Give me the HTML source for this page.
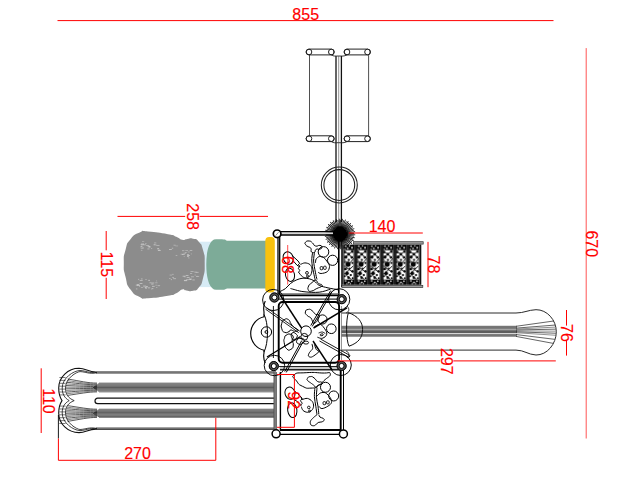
<!DOCTYPE html>
<html><head><meta charset="utf-8"><title>Playground plan</title>
<style>
html,body{margin:0;padding:0;background:#fff;}
body{width:640px;height:480px;overflow:hidden;}
svg{display:block}
</style></head><body>
<svg width="640" height="480" viewBox="0 0 640 480">
<rect width="640" height="480" fill="#fff"/>
<rect x="199" y="241.7" width="18" height="45.4" fill="#d7ebf5"/>
<path d="M123.8,263.3 C123.8,254.4 123.3,258.0 125.5,250.0 C127.7,242.0 125.8,245.0 130.5,239.2 C135.2,233.4 133.9,235.1 139.7,232.5 C145.5,229.9 138.6,230.9 148.0,231.5 C157.4,232.1 158.6,232.5 168.0,234.2 C177.4,235.9 171.6,234.8 176.3,236.7 C181.0,238.6 178.6,239.0 182.2,239.8 C185.8,240.6 183.6,239.4 187.2,239.0 C190.8,238.6 189.1,237.8 193.0,238.7 C196.9,239.6 195.5,237.9 198.8,241.7 C202.1,245.5 201.0,242.8 203.0,250.0 C205.0,257.2 204.7,253.9 204.7,263.3 C204.7,272.7 205.0,270.2 203.0,278.3 C201.0,286.4 202.1,283.3 198.8,287.5 C195.5,291.7 197.2,289.8 193.0,290.8 C188.8,291.8 189.9,290.9 186.3,290.5 C182.7,290.1 185.5,288.7 182.2,289.6 C178.9,290.5 181.0,291.2 176.3,293.3 C171.6,295.4 177.4,294.2 168.0,295.8 C158.6,297.4 157.4,297.8 148.0,298.2 C138.6,298.6 145.5,299.8 139.7,296.9 C133.9,294.0 135.2,296.3 130.5,289.6 C125.8,282.9 127.7,285.5 125.5,276.7 C123.3,267.9 123.8,272.2 123.8,263.3 Z" stroke="none" stroke-width="0" fill="#8c8c8c" />
<rect x="147.6" y="246.0" width="3.0" height="0.7" fill="#d8d8d8" opacity="0.71"/>
<rect x="148.6" y="246.3" width="1.4" height="0.7" fill="#d8d8d8" opacity="0.73"/>
<rect x="151.0" y="248.1" width="1.2" height="0.7" fill="#d8d8d8" opacity="0.64"/>
<rect x="140.7" y="248.3" width="2.5" height="0.7" fill="#d8d8d8" opacity="0.52"/>
<rect x="157.7" y="249.7" width="2.4" height="0.7" fill="#d8d8d8" opacity="0.78"/>
<rect x="142.0" y="241.1" width="2.2" height="0.7" fill="#d8d8d8" opacity="0.53"/>
<rect x="142.6" y="243.2" width="1.1" height="0.7" fill="#d8d8d8" opacity="0.71"/>
<rect x="147.4" y="248.6" width="2.1" height="0.7" fill="#d8d8d8" opacity="0.79"/>
<rect x="148.5" y="247.0" width="2.0" height="0.7" fill="#d8d8d8" opacity="0.63"/>
<rect x="158.0" y="250.0" width="2.8" height="0.7" fill="#d8d8d8" opacity="0.82"/>
<rect x="145.0" y="243.1" width="1.6" height="0.7" fill="#d8d8d8" opacity="0.53"/>
<rect x="153.6" y="244.6" width="2.9" height="0.7" fill="#d8d8d8" opacity="0.67"/>
<rect x="157.2" y="248.6" width="1.0" height="0.7" fill="#d8d8d8" opacity="0.59"/>
<rect x="156.3" y="245.2" width="3.2" height="0.7" fill="#d8d8d8" opacity="0.68"/>
<rect x="140.4" y="246.7" width="2.7" height="0.7" fill="#d8d8d8" opacity="0.62"/>
<rect x="140.7" y="244.0" width="3.1" height="0.7" fill="#d8d8d8" opacity="0.84"/>
<rect x="141.2" y="243.2" width="1.2" height="0.7" fill="#d8d8d8" opacity="0.53"/>
<rect x="154.1" y="242.6" width="2.2" height="0.7" fill="#d8d8d8" opacity="0.70"/>
<rect x="142.6" y="247.6" width="1.3" height="0.7" fill="#d8d8d8" opacity="0.79"/>
<rect x="141.2" y="244.8" width="1.5" height="0.7" fill="#d8d8d8" opacity="0.62"/>
<rect x="157.4" y="248.2" width="1.7" height="0.7" fill="#d8d8d8" opacity="0.90"/>
<rect x="143.0" y="244.5" width="2.9" height="0.7" fill="#d8d8d8" opacity="0.79"/>
<rect x="140.9" y="249.9" width="1.5" height="0.7" fill="#d8d8d8" opacity="0.62"/>
<rect x="153.7" y="244.0" width="1.7" height="0.7" fill="#d8d8d8" opacity="0.53"/>
<rect x="140.7" y="246.2" width="1.5" height="0.7" fill="#d8d8d8" opacity="0.77"/>
<rect x="146.1" y="245.1" width="3.1" height="0.7" fill="#d8d8d8" opacity="0.72"/>
<rect x="148.2" y="287.6" width="1.4" height="0.7" fill="#d8d8d8" opacity="0.57"/>
<rect x="155.9" y="287.1" width="1.5" height="0.7" fill="#d8d8d8" opacity="0.59"/>
<rect x="152.0" y="288.4" width="1.4" height="0.7" fill="#d8d8d8" opacity="0.93"/>
<rect x="155.3" y="284.8" width="1.9" height="0.7" fill="#d8d8d8" opacity="0.55"/>
<rect x="135.9" y="288.6" width="1.5" height="0.7" fill="#d8d8d8" opacity="0.82"/>
<rect x="140.9" y="287.1" width="2.3" height="0.7" fill="#d8d8d8" opacity="0.63"/>
<rect x="139.0" y="286.1" width="1.2" height="0.7" fill="#d8d8d8" opacity="0.60"/>
<rect x="147.9" y="287.5" width="2.4" height="0.7" fill="#d8d8d8" opacity="0.63"/>
<rect x="156.1" y="280.6" width="1.0" height="0.7" fill="#d8d8d8" opacity="0.62"/>
<rect x="145.3" y="279.1" width="1.4" height="0.7" fill="#d8d8d8" opacity="0.67"/>
<rect x="148.2" y="279.9" width="1.8" height="0.7" fill="#d8d8d8" opacity="0.90"/>
<rect x="157.6" y="285.4" width="2.5" height="0.7" fill="#d8d8d8" opacity="0.76"/>
<rect x="138.2" y="278.9" width="1.0" height="0.7" fill="#d8d8d8" opacity="0.91"/>
<rect x="151.1" y="288.6" width="1.0" height="0.7" fill="#d8d8d8" opacity="0.79"/>
<rect x="146.1" y="286.2" width="1.7" height="0.7" fill="#d8d8d8" opacity="0.95"/>
<rect x="136.7" y="284.2" width="2.6" height="0.7" fill="#d8d8d8" opacity="0.91"/>
<rect x="152.0" y="285.9" width="2.7" height="0.7" fill="#d8d8d8" opacity="0.91"/>
<rect x="143.1" y="285.7" width="3.0" height="0.7" fill="#d8d8d8" opacity="0.89"/>
<rect x="144.6" y="286.8" width="2.9" height="0.7" fill="#d8d8d8" opacity="0.76"/>
<rect x="149.4" y="282.5" width="2.3" height="0.7" fill="#d8d8d8" opacity="0.77"/>
<rect x="136.8" y="285.2" width="3.2" height="0.7" fill="#d8d8d8" opacity="0.90"/>
<rect x="151.7" y="282.6" width="2.6" height="0.7" fill="#d8d8d8" opacity="0.76"/>
<rect x="145.1" y="287.3" width="1.2" height="0.7" fill="#d8d8d8" opacity="0.84"/>
<rect x="135.7" y="284.8" width="2.1" height="0.7" fill="#d8d8d8" opacity="0.60"/>
<rect x="151.1" y="283.7" width="2.4" height="0.7" fill="#d8d8d8" opacity="0.91"/>
<rect x="140.9" y="278.6" width="1.7" height="0.7" fill="#d8d8d8" opacity="0.81"/>
<rect x="139.7" y="280.3" width="3.0" height="0.7" fill="#d8d8d8" opacity="0.80"/>
<rect x="145.2" y="287.9" width="1.7" height="0.7" fill="#d8d8d8" opacity="0.80"/>
<rect x="139.6" y="283.0" width="2.8" height="0.7" fill="#d8d8d8" opacity="0.91"/>
<rect x="155.2" y="282.5" width="2.3" height="0.7" fill="#d8d8d8" opacity="0.64"/>
<rect x="181.9" y="254.0" width="2.8" height="0.7" fill="#d8d8d8" opacity="0.88"/>
<rect x="188.0" y="257.6" width="1.6" height="0.7" fill="#d8d8d8" opacity="0.58"/>
<rect x="185.2" y="252.2" width="1.5" height="0.7" fill="#d8d8d8" opacity="0.69"/>
<rect x="187.1" y="254.0" width="1.7" height="0.7" fill="#d8d8d8" opacity="0.88"/>
<rect x="190.8" y="253.6" width="1.2" height="0.7" fill="#d8d8d8" opacity="0.51"/>
<rect x="189.7" y="250.3" width="2.6" height="0.7" fill="#d8d8d8" opacity="0.76"/>
<rect x="183.7" y="256.3" width="1.0" height="0.7" fill="#d8d8d8" opacity="0.56"/>
<rect x="185.3" y="250.2" width="2.8" height="0.7" fill="#d8d8d8" opacity="0.61"/>
<rect x="182.0" y="250.4" width="2.4" height="0.7" fill="#d8d8d8" opacity="0.70"/>
<rect x="187.1" y="255.2" width="2.8" height="0.7" fill="#d8d8d8" opacity="0.93"/>
<rect x="187.7" y="251.6" width="2.0" height="0.7" fill="#d8d8d8" opacity="0.58"/>
<rect x="180.6" y="253.8" width="2.6" height="0.7" fill="#d8d8d8" opacity="0.58"/>
<rect x="183.4" y="252.8" width="2.5" height="0.7" fill="#d8d8d8" opacity="0.73"/>
<rect x="187.0" y="256.0" width="1.9" height="0.7" fill="#d8d8d8" opacity="0.86"/>
<rect x="195.5" y="271.9" width="3.1" height="0.7" fill="#d8d8d8" opacity="0.83"/>
<rect x="182.6" y="275.8" width="2.4" height="0.7" fill="#d8d8d8" opacity="0.91"/>
<rect x="186.7" y="277.0" width="2.9" height="0.7" fill="#d8d8d8" opacity="0.86"/>
<rect x="196.1" y="275.9" width="2.4" height="0.7" fill="#d8d8d8" opacity="0.59"/>
<rect x="192.4" y="279.6" width="2.4" height="0.7" fill="#d8d8d8" opacity="0.82"/>
<rect x="184.0" y="280.4" width="3.2" height="0.7" fill="#d8d8d8" opacity="0.94"/>
<rect x="189.4" y="279.3" width="1.7" height="0.7" fill="#d8d8d8" opacity="0.91"/>
<rect x="194.6" y="274.7" width="1.2" height="0.7" fill="#d8d8d8" opacity="0.70"/>
<rect x="189.6" y="279.1" width="2.1" height="0.7" fill="#d8d8d8" opacity="0.51"/>
<rect x="193.9" y="271.7" width="2.8" height="0.7" fill="#d8d8d8" opacity="0.58"/>
<rect x="186.0" y="279.3" width="1.3" height="0.7" fill="#d8d8d8" opacity="0.57"/>
<rect x="189.0" y="278.6" width="2.8" height="0.7" fill="#d8d8d8" opacity="0.81"/>
<rect x="196.1" y="276.2" width="3.1" height="0.7" fill="#d8d8d8" opacity="0.54"/>
<rect x="184.2" y="276.5" width="1.6" height="0.7" fill="#d8d8d8" opacity="0.83"/>
<rect x="191.0" y="276.5" width="2.9" height="0.7" fill="#d8d8d8" opacity="0.75"/>
<rect x="185.6" y="275.0" width="2.9" height="0.7" fill="#d8d8d8" opacity="0.91"/>
<rect x="183.9" y="279.9" width="3.1" height="0.7" fill="#d8d8d8" opacity="0.74"/>
<rect x="190.0" y="273.1" width="2.2" height="0.7" fill="#d8d8d8" opacity="0.73"/>
<rect x="190.5" y="271.3" width="3.1" height="0.7" fill="#d8d8d8" opacity="0.73"/>
<rect x="187.1" y="279.4" width="2.2" height="0.7" fill="#d8d8d8" opacity="0.72"/>
<rect x="173.5" y="244.8" width="2.2" height="0.7" fill="#d8d8d8" opacity="0.69"/>
<rect x="175.7" y="255.1" width="1.6" height="0.7" fill="#d8d8d8" opacity="0.71"/>
<rect x="169.0" y="249.2" width="2.8" height="0.7" fill="#d8d8d8" opacity="0.91"/>
<rect x="171.8" y="247.8" width="1.4" height="0.7" fill="#d8d8d8" opacity="0.78"/>
<rect x="175.4" y="245.6" width="2.7" height="0.7" fill="#d8d8d8" opacity="0.51"/>
<rect x="169.6" y="274.7" width="2.5" height="0.7" fill="#d8d8d8" opacity="0.64"/>
<rect x="170.8" y="279.4" width="1.2" height="0.7" fill="#d8d8d8" opacity="0.83"/>
<rect x="169.0" y="278.1" width="1.6" height="0.7" fill="#d8d8d8" opacity="0.59"/>
<rect x="172.2" y="277.2" width="1.8" height="0.7" fill="#d8d8d8" opacity="0.69"/>
<rect x="172.2" y="273.9" width="1.4" height="0.7" fill="#d8d8d8" opacity="0.78"/>
<rect x="173.1" y="278.4" width="2.9" height="0.7" fill="#d8d8d8" opacity="0.78"/>
<path d="M214,239.5 C217,239 222,239.2 225,239.6 C226,240.6 227,241 229,240.8 L266,240.8 L266,288.6 L229,288.6 C227,288.5 226,288.8 225,289.4 C222,289.7 217,290 214,289.4 C208.5,287 206.3,276 206.3,264.5 C206.3,253 208.5,242 214,239.5 Z" stroke="none" stroke-width="0" fill="#7dab98" />
<rect x="265.3" y="236.9" width="9.5" height="55.6" rx="3.8" fill="#f8c10e"/>
<line x1="336.00" y1="56.00" x2="336.00" y2="222.00" stroke="#111" stroke-width="1.3" />
<line x1="338.70" y1="56.00" x2="338.70" y2="222.00" stroke="#666" stroke-width="0.7" />
<line x1="341.40" y1="56.00" x2="341.40" y2="222.00" stroke="#111" stroke-width="1.3" />
<rect x="306.10" y="49.10" width="28.10" height="5.80" rx="2.9" stroke="#222" stroke-width="1.0" fill="none"/>
<circle cx="309.00" cy="52.00" r="2.80" stroke="#222" stroke-width="1.0" fill="none"/>
<circle cx="331.30" cy="52.00" r="2.80" stroke="#222" stroke-width="1.0" fill="none"/>
<rect x="306.10" y="135.80" width="28.10" height="5.80" rx="2.9" stroke="#222" stroke-width="1.0" fill="none"/>
<circle cx="309.00" cy="138.70" r="2.80" stroke="#222" stroke-width="1.0" fill="none"/>
<circle cx="331.30" cy="138.70" r="2.80" stroke="#222" stroke-width="1.0" fill="none"/>
<rect x="344.10" y="49.10" width="26.30" height="5.80" rx="2.9" stroke="#222" stroke-width="1.0" fill="none"/>
<circle cx="347.00" cy="52.00" r="2.80" stroke="#222" stroke-width="1.0" fill="none"/>
<circle cx="367.50" cy="52.00" r="2.80" stroke="#222" stroke-width="1.0" fill="none"/>
<rect x="344.10" y="135.80" width="26.30" height="5.80" rx="2.9" stroke="#222" stroke-width="1.0" fill="none"/>
<circle cx="347.00" cy="138.70" r="2.80" stroke="#222" stroke-width="1.0" fill="none"/>
<circle cx="367.50" cy="138.70" r="2.80" stroke="#222" stroke-width="1.0" fill="none"/>
<line x1="309.50" y1="55.00" x2="309.50" y2="136.00" stroke="#222" stroke-width="0.8" />
<line x1="368.60" y1="55.00" x2="368.60" y2="136.00" stroke="#222" stroke-width="0.8" />
<path d="M331.3,54.9 C334,56.5 335,56 338.7,56 C342,56 344,56.5 347,54.9" stroke="#222" stroke-width="0.9" fill="none" />
<path d="M331.3,141.6 C334,143.2 335,142.7 338.7,142.7 C342,142.7 344,143.2 347,141.6" stroke="#222" stroke-width="0.9" fill="none" />
<circle cx="339.30" cy="185.00" r="18.00" stroke="#222" stroke-width="1.05" fill="none"/>
<circle cx="339.30" cy="185.00" r="15.40" stroke="#222" stroke-width="1.05" fill="none"/>
<path d="M347.00,234.01 L355.29,234.40 L355.25,235.20 L346.96,234.72 Z M346.96,234.74 L354.11,235.83 L353.99,236.62 L346.85,235.45 Z M346.85,235.46 L354.88,237.57 L354.67,238.34 L346.66,236.16 Z M346.66,236.17 L353.42,238.72 L353.14,239.47 L346.40,236.84 Z M346.39,236.85 L353.81,240.59 L353.45,241.30 L346.07,237.49 Z M346.06,237.51 L352.15,241.41 L351.71,242.08 L345.67,238.11 Z M345.66,238.12 L352.14,243.31 L351.63,243.94 L345.21,238.68 Z M345.20,238.69 L350.34,243.77 L349.77,244.34 L344.69,239.20 Z M344.68,239.21 L349.94,245.63 L349.31,246.14 L344.12,239.66 Z M344.11,239.67 L348.08,245.71 L347.41,246.15 L343.51,240.06 Z M343.49,240.07 L347.30,247.45 L346.59,247.81 L342.85,240.39 Z M342.84,240.40 L345.47,247.14 L344.72,247.42 L342.17,240.66 Z M342.16,240.66 L344.34,248.67 L343.57,248.88 L341.46,240.85 Z M341.45,240.85 L342.62,247.99 L341.83,248.11 L340.74,240.96 Z M340.72,240.96 L341.20,249.25 L340.40,249.29 L340.01,241.00 Z M339.99,241.00 L339.66,248.22 L338.86,248.18 L339.28,240.96 Z M339.26,240.96 L338.00,249.17 L337.21,249.04 L338.55,240.85 Z M338.54,240.85 L336.71,247.84 L335.93,247.64 L337.84,240.66 Z M337.83,240.66 L334.89,248.42 L334.15,248.14 L337.16,240.40 Z M337.15,240.39 L333.90,246.85 L333.19,246.49 L336.51,240.07 Z M336.49,240.06 L332.01,247.05 L331.33,246.61 L335.89,239.67 Z M335.88,239.66 L331.36,245.31 L330.74,244.80 L335.32,239.21 Z M335.31,239.20 L329.47,245.10 L328.90,244.53 L334.80,238.69 Z M334.79,238.68 L329.20,243.26 L328.69,242.64 L334.34,238.12 Z M334.33,238.11 L327.39,242.67 L326.95,241.99 L333.94,237.51 Z M333.93,237.49 L327.51,240.81 L327.15,240.10 L333.61,236.85 Z M333.60,236.84 L325.86,239.85 L325.58,239.11 L333.34,236.17 Z M333.34,236.16 L326.36,238.07 L326.16,237.29 L333.15,235.46 Z M333.15,235.45 L324.96,236.79 L324.83,236.00 L333.04,234.74 Z M333.04,234.72 L325.82,235.14 L325.78,234.34 L333.00,234.01 Z M333.00,233.99 L324.71,233.60 L324.75,232.80 L333.04,233.28 Z M333.04,233.26 L325.89,232.17 L326.01,231.38 L333.15,232.55 Z M333.15,232.54 L325.12,230.43 L325.33,229.66 L333.34,231.84 Z M333.34,231.83 L326.58,229.28 L326.86,228.53 L333.60,231.16 Z M333.61,231.15 L326.19,227.41 L326.55,226.70 L333.93,230.51 Z M333.94,230.49 L327.85,226.59 L328.29,225.92 L334.33,229.89 Z M334.34,229.88 L327.86,224.69 L328.37,224.06 L334.79,229.32 Z M334.80,229.31 L329.66,224.23 L330.23,223.66 L335.31,228.80 Z M335.32,228.79 L330.06,222.37 L330.69,221.86 L335.88,228.34 Z M335.89,228.33 L331.92,222.29 L332.59,221.85 L336.49,227.94 Z M336.51,227.93 L332.70,220.55 L333.41,220.19 L337.15,227.61 Z M337.16,227.60 L334.53,220.86 L335.28,220.58 L337.83,227.34 Z M337.84,227.34 L335.66,219.33 L336.43,219.12 L338.54,227.15 Z M338.55,227.15 L337.38,220.01 L338.17,219.89 L339.26,227.04 Z M339.28,227.04 L338.80,218.75 L339.60,218.71 L339.99,227.00 Z M340.01,227.00 L340.34,219.78 L341.14,219.82 L340.72,227.04 Z M340.74,227.04 L342.00,218.83 L342.79,218.96 L341.45,227.15 Z M341.46,227.15 L343.29,220.16 L344.07,220.36 L342.16,227.34 Z M342.17,227.34 L345.11,219.58 L345.85,219.86 L342.84,227.60 Z M342.85,227.61 L346.10,221.15 L346.81,221.51 L343.49,227.93 Z M343.51,227.94 L347.99,220.95 L348.67,221.39 L344.11,228.33 Z M344.12,228.34 L348.64,222.69 L349.26,223.20 L344.68,228.79 Z M344.69,228.80 L350.53,222.90 L351.10,223.47 L345.20,229.31 Z M345.21,229.32 L350.80,224.74 L351.31,225.36 L345.66,229.88 Z M345.67,229.89 L352.61,225.33 L353.05,226.01 L346.06,230.49 Z M346.07,230.51 L352.49,227.19 L352.85,227.90 L346.39,231.15 Z M346.40,231.16 L354.14,228.15 L354.42,228.89 L346.66,231.83 Z M346.66,231.84 L353.64,229.93 L353.84,230.71 L346.85,232.54 Z M346.85,232.55 L355.04,231.21 L355.17,232.00 L346.96,233.26 Z M346.96,233.28 L354.18,232.86 L354.22,233.66 L347.00,233.99 Z" stroke="none" stroke-width="0" fill="#000" />
<circle cx="340.00" cy="234.00" r="7.40" stroke="none" stroke-width="0" fill="#000"/>
<defs><pattern id="lace" width="13.05" height="40.2" patternUnits="userSpaceOnUse" x="343.6" y="244.6"><rect width="13.05" height="40.2" fill="#1c1c1c"/><rect width="10.6" height="40.2" fill="#fff"/><rect x="0" y="0" width="10.6" height="5.6" fill="#050505"/><rect x="0" y="35.0" width="10.6" height="5.2" fill="#050505"/><circle cx="2.2" cy="1.6" r="0.8" fill="#fff"/><circle cx="6.0" cy="1.2" r="0.7" fill="#fff"/><circle cx="8.4" cy="3.0" r="0.9" fill="#fff"/><circle cx="4.2" cy="3.8" r="0.8" fill="#fff"/><circle cx="1.2" cy="4.6" r="0.6" fill="#fff"/><circle cx="2.0" cy="36.4" r="0.8" fill="#fff"/><circle cx="5.2" cy="37.8" r="0.9" fill="#fff"/><circle cx="8.2" cy="36.6" r="0.8" fill="#fff"/><circle cx="7.0" cy="39.0" r="0.6" fill="#fff"/><circle cx="3.4" cy="39.2" r="0.6" fill="#fff"/><circle cx="1.4" cy="7.6" r="1.3" fill="#050505"/><circle cx="8.6" cy="7.2" r="1.2" fill="#050505"/><circle cx="5.0" cy="9.6" r="1.5" fill="#050505"/><circle cx="2.2" cy="12.4" r="1.7" fill="#050505"/><circle cx="8.2" cy="12.8" r="1.3" fill="#050505"/><circle cx="5.2" cy="15.4" r="1.1" fill="#050505"/><circle cx="4.4" cy="19.6" r="2.6" fill="#050505"/><circle cx="8.8" cy="18.4" r="1.0" fill="#050505"/><circle cx="0.8" cy="17.6" r="0.9" fill="#050505"/><circle cx="2.0" cy="24.4" r="1.4" fill="#050505"/><circle cx="6.0" cy="24.0" r="0.9" fill="#050505"/><circle cx="8.8" cy="26.6" r="1.2" fill="#050505"/><circle cx="3.4" cy="28.6" r="1.9" fill="#050505"/><circle cx="7.2" cy="30.4" r="1.1" fill="#050505"/><circle cx="1.2" cy="31.6" r="1.0" fill="#050505"/><circle cx="5.0" cy="33.0" r="1.3" fill="#050505"/><circle cx="9.0" cy="33.6" r="0.9" fill="#050505"/><line x1="0.5" y1="6" x2="9.5" y2="13.5" stroke="#050505" stroke-width="0.9"/><line x1="9.5" y1="6" x2="0.5" y2="13.5" stroke="#050505" stroke-width="0.9"/><line x1="0.5" y1="21" x2="9.5" y2="28" stroke="#050505" stroke-width="0.9"/><line x1="9.5" y1="21.5" x2="0.5" y2="30" stroke="#050505" stroke-width="0.9"/><line x1="0" y1="14" x2="4" y2="19" stroke="#050505" stroke-width="0.9"/><line x1="10" y1="14" x2="6" y2="19" stroke="#050505" stroke-width="0.9"/><line x1="2" y1="30" x2="8" y2="35" stroke="#050505" stroke-width="0.9"/><rect x="0" y="0" width="0.7" height="40.2" fill="#050505"/><rect x="9.9" y="0" width="0.7" height="40.2" fill="#050505"/></pattern></defs>
<rect x="341.8" y="244.6" width="1.8" height="40.2" fill="#333"/>
<rect x="343.6" y="244.6" width="75.85" height="40.2" fill="url(#lace)"/>
<rect x="353.40" y="241.70" width="69.80" height="2.40" rx="0" stroke="#333" stroke-width="0.7" fill="#9c9c9c"/>
<rect x="419.4" y="244.6" width="1.9" height="40.2" fill="#111"/>
<rect x="341.80" y="285.40" width="81.00" height="2.10" rx="0" stroke="#333" stroke-width="0.7" fill="#a0a0a0"/>
<path d="M341.4,313.0 L516,313.0 C524,313.0 528,310 536,309.7 C547,309.5 556.3,320 556.3,331.7 C556.3,344 547,355.2 536,355 C528,354.6 524,350.1 516,350.1 L341.4,350.1" stroke="#2a2a2a" stroke-width="1.0" fill="none" />
<line x1="341.40" y1="326.30" x2="517.00" y2="326.30" stroke="#666666" stroke-width="1.0" />
<line x1="516.00" y1="326.30" x2="553.73" y2="321.00" stroke="#222" stroke-width="0.7" />
<line x1="341.40" y1="327.22" x2="517.00" y2="327.22" stroke="#555555" stroke-width="1.0" />
<line x1="341.40" y1="328.14" x2="517.00" y2="328.14" stroke="#585858" stroke-width="1.0" />
<line x1="516.00" y1="328.14" x2="555.01" y2="325.07" stroke="#222" stroke-width="0.7" />
<line x1="341.40" y1="329.05" x2="517.00" y2="329.05" stroke="#626262" stroke-width="1.0" />
<line x1="516.00" y1="329.05" x2="555.42" y2="327.11" stroke="#222" stroke-width="0.5" />
<line x1="341.40" y1="329.97" x2="517.00" y2="329.97" stroke="#a0a0a0" stroke-width="1.0" />
<line x1="516.00" y1="329.97" x2="555.68" y2="329.15" stroke="#222" stroke-width="0.7" />
<line x1="341.40" y1="330.89" x2="517.00" y2="330.89" stroke="#404040" stroke-width="1.0" />
<line x1="516.00" y1="330.89" x2="555.80" y2="331.18" stroke="#222" stroke-width="0.5" />
<line x1="341.40" y1="331.81" x2="517.00" y2="331.81" stroke="#383838" stroke-width="1.0" />
<line x1="516.00" y1="331.81" x2="555.76" y2="333.22" stroke="#222" stroke-width="0.7" />
<line x1="341.40" y1="332.73" x2="517.00" y2="332.73" stroke="#424242" stroke-width="1.0" />
<line x1="516.00" y1="332.73" x2="555.57" y2="335.25" stroke="#222" stroke-width="0.5" />
<line x1="341.40" y1="333.65" x2="517.00" y2="333.65" stroke="#d8d8d8" stroke-width="1.0" />
<line x1="341.40" y1="334.56" x2="517.00" y2="334.56" stroke="#787878" stroke-width="1.0" />
<line x1="516.00" y1="334.56" x2="554.75" y2="339.33" stroke="#222" stroke-width="0.7" />
<line x1="341.40" y1="335.48" x2="517.00" y2="335.48" stroke="#707070" stroke-width="1.0" />
<line x1="341.40" y1="336.40" x2="517.00" y2="336.40" stroke="#8c8c8c" stroke-width="1.0" />
<line x1="516.00" y1="336.40" x2="553.33" y2="343.40" stroke="#222" stroke-width="0.7" />
<path d="M348.4,312.7 C358,316 362.6,322 362.6,329.4 C362.6,338 358,343 349,346.2 C346,340 345.8,320 348.4,312.7 Z" stroke="#111" stroke-width="1.0" fill="none" />
<path d="M276,372.0 L96,372.0 C88,372.0 86,368.5 79,368.3 C68,368.3 58.7,377 58.7,388 C58.7,394 60,397.5 62,400.6 C60,403.7 58.7,407 58.7,413 C58.7,424 68,432.6 79,432.6 C86,432.5 88,429.1 96,429.1 L276,429.1" stroke="#111" stroke-width="1.1" fill="none" />
<line x1="96.00" y1="373.20" x2="276.00" y2="373.20" stroke="#444" stroke-width="0.8" />
<line x1="96.00" y1="427.90" x2="276.00" y2="427.90" stroke="#444" stroke-width="0.8" />
<path d="M97,372.4 C89,373.4 86,370.7 80,370.5 C73.5,370.7 62.2,378 62.2,388 C62.2,394 64.5,398 69.2,400.6 C64.5,403.2 62.2,407 62.2,413 C62.2,423 73.5,430.4 80,430.6 C86,430.4 89,427.8 97,428.8" stroke="#111" stroke-width="0.8" fill="none" />
<path d="M97,372.7 C89,374.4 86,371.8 80,371.6 C76.8,371.8 65.5,378 65.5,388 C65.5,394 67.8,398 74.2,400.6 C67.8,403.2 65.5,407 65.5,413 C65.5,423 76.8,429.3 80,429.5 C86,429.3 89,426.8 97,428.5" stroke="#111" stroke-width="0.8" fill="none" />
<line x1="59.40" y1="377.50" x2="65.60" y2="377.50" stroke="#222" stroke-width="0.6" />
<line x1="59.40" y1="380.40" x2="65.60" y2="380.40" stroke="#222" stroke-width="0.6" />
<line x1="59.40" y1="383.30" x2="65.60" y2="383.30" stroke="#222" stroke-width="0.6" />
<line x1="59.40" y1="386.20" x2="65.60" y2="386.20" stroke="#222" stroke-width="0.6" />
<line x1="59.40" y1="389.10" x2="65.60" y2="389.10" stroke="#222" stroke-width="0.6" />
<line x1="59.40" y1="392.00" x2="65.60" y2="392.00" stroke="#222" stroke-width="0.6" />
<line x1="59.40" y1="394.90" x2="65.60" y2="394.90" stroke="#222" stroke-width="0.6" />
<line x1="59.40" y1="406.10" x2="65.60" y2="406.10" stroke="#222" stroke-width="0.6" />
<line x1="59.40" y1="409.00" x2="65.60" y2="409.00" stroke="#222" stroke-width="0.6" />
<line x1="59.40" y1="411.90" x2="65.60" y2="411.90" stroke="#222" stroke-width="0.6" />
<line x1="59.40" y1="414.80" x2="65.60" y2="414.80" stroke="#222" stroke-width="0.6" />
<line x1="59.40" y1="417.70" x2="65.60" y2="417.70" stroke="#222" stroke-width="0.6" />
<line x1="59.40" y1="420.60" x2="65.60" y2="420.60" stroke="#222" stroke-width="0.6" />
<line x1="59.40" y1="423.50" x2="65.60" y2="423.50" stroke="#222" stroke-width="0.6" />
<line x1="274.00" y1="383.10" x2="99.00" y2="383.10" stroke="#7c7c7c" stroke-width="1.0" />
<path d="M97,383.10 C88,383.10 80,381.05 67.69,379.00" stroke="#111" stroke-width="0.7" fill="none" />
<line x1="274.00" y1="383.98" x2="97.80" y2="383.98" stroke="#5a5a5a" stroke-width="1.0" />
<path d="M97,383.98 C88,383.98 80,382.31 67.10,380.64" stroke="#111" stroke-width="0.5" fill="none" />
<line x1="274.00" y1="384.86" x2="96.60" y2="384.86" stroke="#626262" stroke-width="1.0" />
<path d="M97,384.86 C88,384.86 80,383.57 66.64,382.28" stroke="#111" stroke-width="0.7" fill="none" />
<line x1="274.00" y1="385.74" x2="95.40" y2="385.74" stroke="#626262" stroke-width="1.0" />
<path d="M97,385.74 C88,385.74 80,384.83 66.30,383.92" stroke="#111" stroke-width="0.5" fill="none" />
<line x1="274.00" y1="386.62" x2="94.20" y2="386.62" stroke="#626262" stroke-width="1.0" />
<path d="M97,386.62 C88,386.62 80,386.09 66.09,385.56" stroke="#111" stroke-width="0.7" fill="none" />
<line x1="274.00" y1="387.50" x2="93.00" y2="387.50" stroke="#5a5a5a" stroke-width="1.0" />
<path d="M97,387.50 C88,387.50 80,387.35 66.00,387.20" stroke="#111" stroke-width="0.5" fill="none" />
<line x1="274.00" y1="388.38" x2="94.20" y2="388.38" stroke="#626262" stroke-width="1.0" />
<path d="M97,388.38 C88,388.38 80,388.61 66.04,388.84" stroke="#111" stroke-width="0.7" fill="none" />
<line x1="274.00" y1="389.26" x2="95.40" y2="389.26" stroke="#626262" stroke-width="1.0" />
<path d="M97,389.26 C88,389.26 80,389.87 66.21,390.48" stroke="#111" stroke-width="0.5" fill="none" />
<line x1="274.00" y1="390.14" x2="96.60" y2="390.14" stroke="#626262" stroke-width="1.0" />
<path d="M97,390.14 C88,390.14 80,391.13 66.50,392.12" stroke="#111" stroke-width="0.7" fill="none" />
<line x1="274.00" y1="391.02" x2="97.80" y2="391.02" stroke="#5a5a5a" stroke-width="1.0" />
<path d="M97,391.02 C88,391.02 80,392.39 66.92,393.76" stroke="#111" stroke-width="0.5" fill="none" />
<line x1="274.00" y1="391.90" x2="99.00" y2="391.90" stroke="#7c7c7c" stroke-width="1.0" />
<path d="M97,391.90 C88,391.90 80,393.65 67.46,395.40" stroke="#111" stroke-width="0.7" fill="none" />
<line x1="274.00" y1="409.20" x2="99.00" y2="409.20" stroke="#7c7c7c" stroke-width="1.0" />
<path d="M97,409.20 C88,409.20 80,407.40 67.39,405.60" stroke="#111" stroke-width="0.7" fill="none" />
<line x1="274.00" y1="410.02" x2="97.80" y2="410.02" stroke="#5a5a5a" stroke-width="1.0" />
<path d="M97,410.02 C88,410.02 80,408.60 66.88,407.18" stroke="#111" stroke-width="0.5" fill="none" />
<line x1="274.00" y1="410.84" x2="96.60" y2="410.84" stroke="#626262" stroke-width="1.0" />
<path d="M97,410.84 C88,410.84 80,409.80 66.48,408.76" stroke="#111" stroke-width="0.7" fill="none" />
<line x1="274.00" y1="411.66" x2="95.40" y2="411.66" stroke="#626262" stroke-width="1.0" />
<path d="M97,411.66 C88,411.66 80,411.00 66.21,410.34" stroke="#111" stroke-width="0.5" fill="none" />
<line x1="274.00" y1="412.48" x2="94.20" y2="412.48" stroke="#626262" stroke-width="1.0" />
<path d="M97,412.48 C88,412.48 80,412.20 66.04,411.92" stroke="#111" stroke-width="0.7" fill="none" />
<line x1="274.00" y1="413.30" x2="93.00" y2="413.30" stroke="#5a5a5a" stroke-width="1.0" />
<path d="M97,413.30 C88,413.30 80,413.40 66.00,413.50" stroke="#111" stroke-width="0.5" fill="none" />
<line x1="274.00" y1="414.12" x2="94.20" y2="414.12" stroke="#626262" stroke-width="1.0" />
<path d="M97,414.12 C88,414.12 80,414.60 66.07,415.08" stroke="#111" stroke-width="0.7" fill="none" />
<line x1="274.00" y1="414.94" x2="95.40" y2="414.94" stroke="#626262" stroke-width="1.0" />
<path d="M97,414.94 C88,414.94 80,415.80 66.26,416.66" stroke="#111" stroke-width="0.5" fill="none" />
<line x1="274.00" y1="415.76" x2="96.60" y2="415.76" stroke="#626262" stroke-width="1.0" />
<path d="M97,415.76 C88,415.76 80,417.00 66.57,418.24" stroke="#111" stroke-width="0.7" fill="none" />
<line x1="274.00" y1="416.58" x2="97.80" y2="416.58" stroke="#5a5a5a" stroke-width="1.0" />
<path d="M97,416.58 C88,416.58 80,418.20 67.00,419.82" stroke="#111" stroke-width="0.5" fill="none" />
<line x1="274.00" y1="417.40" x2="99.00" y2="417.40" stroke="#7c7c7c" stroke-width="1.0" />
<path d="M97,417.40 C88,417.40 80,419.40 67.54,421.40" stroke="#111" stroke-width="0.7" fill="none" />
<path d="M276,398.2 L97.7,398.2 A2.7,2.7 0 0 0 97.7,403.6 L276,403.6" stroke="#111" stroke-width="1.2" fill="#fff" />
<line x1="279.00" y1="233.30" x2="333.00" y2="233.30" stroke="#d6d6d6" stroke-width="2.2" />
<line x1="279.00" y1="231.60" x2="340.00" y2="231.60" stroke="#000" stroke-width="1.4" />
<line x1="279.00" y1="235.00" x2="340.00" y2="235.00" stroke="#000" stroke-width="1.4" />
<line x1="278.00" y1="236.00" x2="278.00" y2="296.00" stroke="#000" stroke-width="1.3" />
<line x1="279.70" y1="236.00" x2="279.70" y2="294.00" stroke="#000" stroke-width="1.3" />
<line x1="338.80" y1="236.00" x2="338.80" y2="296.00" stroke="#000" stroke-width="1.6" />
<line x1="341.60" y1="236.00" x2="341.60" y2="287.00" stroke="#000" stroke-width="0.8" />
<line x1="280.00" y1="293.80" x2="339.00" y2="293.80" stroke="#555" stroke-width="0.9" />
<line x1="280.00" y1="295.40" x2="339.00" y2="295.40" stroke="#000" stroke-width="1.7" />
<rect x="278.70" y="302.00" width="60.40" height="60.80" rx="4" stroke="#000" stroke-width="1.9" fill="none"/>
<line x1="273.40" y1="306.00" x2="273.40" y2="358.00" stroke="#000" stroke-width="0.9" />
<line x1="341.50" y1="306.00" x2="341.50" y2="360.00" stroke="#666" stroke-width="0.7" />
<line x1="279.00" y1="299.10" x2="338.00" y2="299.10" stroke="#333" stroke-width="1.1" />
<line x1="279.00" y1="366.50" x2="338.00" y2="366.50" stroke="#222" stroke-width="1.0" />
<line x1="280.00" y1="368.00" x2="338.00" y2="368.00" stroke="#c8c8c8" stroke-width="1.8" />
<line x1="275.20" y1="372.00" x2="275.20" y2="430.00" stroke="#7a7a7a" stroke-width="2.8" />
<line x1="273.90" y1="372.00" x2="273.90" y2="430.00" stroke="#444" stroke-width="0.6" />
<line x1="276.50" y1="372.00" x2="276.50" y2="430.00" stroke="#444" stroke-width="0.6" />
<line x1="280.40" y1="372.00" x2="280.40" y2="430.00" stroke="#000" stroke-width="1.4" />
<line x1="340.70" y1="369.00" x2="340.70" y2="431.00" stroke="#000" stroke-width="1.9" />
<line x1="343.50" y1="369.00" x2="343.50" y2="431.00" stroke="#000" stroke-width="1.0" />
<line x1="280.00" y1="369.70" x2="341.00" y2="369.70" stroke="#222" stroke-width="1.5" />
<line x1="280.00" y1="430.00" x2="341.00" y2="430.00" stroke="#000" stroke-width="1.8" />
<line x1="279.00" y1="434.40" x2="343.00" y2="434.40" stroke="#000" stroke-width="1.3" />
<path d="M265.3,301 C263.6,304 263.4,308 264,312 L264,316.8 A17.2,17.2 0 0 0 264,350.3 L264,353 C263.4,356 263.8,360 265.3,363" stroke="#000" stroke-width="1.15" fill="none" />
<path d="M264,314.5 C268.6,323 268.6,343 264,352" stroke="#000" stroke-width="1.0" fill="none" />
<circle cx="266.40" cy="332.00" r="5.20" stroke="#000" stroke-width="1.0" fill="none"/>
<circle cx="266.40" cy="332.00" r="1.40" stroke="#000" stroke-width="1.0" fill="none"/>
<path d="M347,306 C350,309 349,312 346,313" stroke="#111" stroke-width="0.8" fill="none" />
<path d="M347,358 C350,355 349,352 346,351" stroke="#111" stroke-width="0.8" fill="none" />
<circle cx="277.10" cy="233.80" r="3.80" stroke="#000" stroke-width="1.7" fill="#fff"/>
<line x1="275.60" y1="235.60" x2="278.60" y2="232.20" stroke="#777" stroke-width="0.8" />
<circle cx="273.20" cy="300.00" r="10.60" stroke="#000" stroke-width="0.95" fill="none"/>
<circle cx="274.40" cy="297.50" r="3.60" stroke="#555" stroke-width="2.6" fill="#fff"/>
<circle cx="274.40" cy="297.50" r="4.60" stroke="#000" stroke-width="1.0" fill="none"/>
<circle cx="274.40" cy="297.50" r="2.50" stroke="#000" stroke-width="0.9" fill="none"/>
<circle cx="339.20" cy="299.30" r="10.60" stroke="#000" stroke-width="0.95" fill="none"/>
<circle cx="341.70" cy="299.20" r="3.60" stroke="#555" stroke-width="2.6" fill="#fff"/>
<circle cx="341.70" cy="299.20" r="4.60" stroke="#000" stroke-width="1.0" fill="none"/>
<circle cx="341.70" cy="299.20" r="2.50" stroke="#000" stroke-width="0.9" fill="none"/>
<circle cx="274.40" cy="365.50" r="10.20" stroke="#000" stroke-width="0.95" fill="none"/>
<circle cx="273.80" cy="366.10" r="3.60" stroke="#555" stroke-width="2.6" fill="#fff"/>
<circle cx="273.80" cy="366.10" r="4.60" stroke="#000" stroke-width="1.0" fill="none"/>
<circle cx="273.80" cy="366.10" r="2.50" stroke="#000" stroke-width="0.9" fill="none"/>
<circle cx="340.80" cy="365.00" r="10.50" stroke="#000" stroke-width="0.95" fill="none"/>
<circle cx="341.60" cy="365.90" r="3.60" stroke="#555" stroke-width="2.6" fill="#fff"/>
<circle cx="341.60" cy="365.90" r="4.60" stroke="#000" stroke-width="1.0" fill="none"/>
<circle cx="341.60" cy="365.90" r="2.50" stroke="#000" stroke-width="0.9" fill="none"/>
<circle cx="276.10" cy="433.80" r="4.00" stroke="#000" stroke-width="1.5" fill="#fff"/>
<circle cx="343.40" cy="433.90" r="4.00" stroke="#000" stroke-width="1.5" fill="#fff"/>
<line x1="278.50" y1="292.50" x2="302.50" y2="329.50" stroke="#000" stroke-width="1.4" />
<line x1="330.66" y1="290.58" x2="310.76" y2="325.58" stroke="#000" stroke-width="1.0" />
<line x1="332.14" y1="291.42" x2="312.24" y2="326.42" stroke="#000" stroke-width="1.0" />
<line x1="347.00" y1="307.90" x2="313.50" y2="328.00" stroke="#000" stroke-width="1.5" />
<line x1="267.00" y1="357.00" x2="300.50" y2="336.50" stroke="#000" stroke-width="1.4" />
<line x1="286.25" y1="372.41" x2="303.25" y2="341.41" stroke="#000" stroke-width="1.0" />
<line x1="284.75" y1="371.59" x2="301.75" y2="340.59" stroke="#000" stroke-width="1.0" />
<line x1="332.00" y1="370.00" x2="313.00" y2="341.00" stroke="#000" stroke-width="1.4" />
<line x1="350.04" y1="355.54" x2="320.54" y2="339.04" stroke="#000" stroke-width="0.9" />
<line x1="348.96" y1="357.46" x2="319.46" y2="340.96" stroke="#000" stroke-width="0.9" />
<line x1="348.90" y1="357.40" x2="350.10" y2="355.60" stroke="#000" stroke-width="0.9" />
<line x1="265.48" y1="309.13" x2="298.78" y2="332.73" stroke="#000" stroke-width="0.85" />
<line x1="266.52" y1="307.67" x2="299.82" y2="331.27" stroke="#000" stroke-width="0.85" />
<circle cx="306.00" cy="331.20" r="5.30" stroke="#000" stroke-width="1.0" fill="#fff"/>
<circle cx="304.30" cy="336.80" r="3.40" stroke="#000" stroke-width="0.9" fill="none"/>
<path d="M305.5,242.2 C306.7,241.0 307.0,240.8 309.2,241.0 C311.5,241.2 310.3,241.2 312.4,242.9 C314.5,244.5 313.0,245.2 315.5,246.0 C318.0,246.8 317.8,245.0 319.9,245.4 C322.0,245.8 321.8,246.0 321.8,247.2 C321.8,248.5 321.8,248.4 319.9,249.1 C318.0,249.8 317.9,248.3 316.1,249.4 C314.3,250.4 316.0,251.4 314.5,252.2 C313.0,253.1 312.8,253.3 311.5,252.0 C310.2,250.7 311.9,250.0 310.8,248.2 C309.6,246.5 309.7,247.8 308.0,246.6 C306.3,245.5 306.6,246.2 305.8,244.8 C304.9,243.3 304.3,243.5 305.5,242.2 Z" stroke="#000" stroke-width="1.0" fill="none" />
<circle cx="323.50" cy="251.90" r="5.30" stroke="#000" stroke-width="1.0" fill="none"/>
<circle cx="332.60" cy="260.30" r="5.10" stroke="#000" stroke-width="1.0" fill="none"/>
<path d="M315.5,262.9 C315.6,262.2 315.5,260.2 316.1,259.1 C316.8,258.1 318.0,256.9 319.2,256.6 C320.5,256.4 322.2,256.5 323.6,257.5 C325.0,258.5 326.8,261.0 327.8,262.5 C328.7,264.0 329.6,265.1 329.5,266.6 C329.4,268.1 328.8,270.5 327.4,271.6 C326.0,272.8 322.7,273.4 321.1,273.5 C319.6,273.6 318.5,272.5 318.0,272.2" stroke="#000" stroke-width="1.0" fill="none" />
<rect x="320.20" y="266.60" width="2.60" height="3.20" rx="0.9" stroke="#000" stroke-width="0.9" fill="none"/>
<rect x="323.60" y="266.20" width="2.60" height="3.20" rx="0.9" stroke="#000" stroke-width="0.9" fill="none"/>
<path d="M312.6,252.2 C312.5,253.7 311.6,257.7 311.8,261.0 C311.9,264.3 312.9,269.1 313.5,272.2 C314.1,275.4 315.0,278.7 315.2,280.0" stroke="#000" stroke-width="1.0" fill="none" />
<path d="M314.5,252.2 C314.4,253.7 313.5,257.7 313.6,261.0 C313.8,264.3 314.8,269.2 315.4,272.2 C315.9,275.3 316.7,278.3 317.0,279.5" stroke="#000" stroke-width="1.0" fill="none" />
<ellipse cx="288.2" cy="258" rx="4.9" ry="6.4" transform="rotate(-18 288.2 258)" fill="none" stroke="#000" stroke-width="1.0"/>
<ellipse cx="290" cy="274.8" rx="4.5" ry="6.7" transform="rotate(-12 290 274.8)" fill="none" stroke="#000" stroke-width="1.0"/>
<path d="M292.7,256.1 L298.1,261 L300,264" stroke="#000" stroke-width="1.0" fill="none" />
<path d="M293.3,261 L297,265.2 L300,267" stroke="#000" stroke-width="1.0" fill="none" />
<path d="M298.1,264 L300,266.4 L298.1,268.2 L300,270.6 L298.1,272.4" stroke="#000" stroke-width="0.9" fill="none" />
<path d="M300.5,264.5 C301.2,264.2 303.3,262.9 304.9,262.9 C306.4,262.9 308.7,263.5 309.9,264.5 C311.1,265.5 311.9,267.4 312.0,269.1 C312.1,270.8 311.6,273.3 310.8,274.8 C309.9,276.2 308.1,277.6 306.8,277.9 C305.4,278.2 303.7,277.6 302.4,276.6 C301.0,275.7 299.2,273.0 298.6,272.2" stroke="#000" stroke-width="1.0" fill="none" />
<circle cx="307.00" cy="272.88" r="1.40" stroke="#000" stroke-width="0.9" fill="none"/>
<circle cx="307.50" cy="276.00" r="1.00" stroke="#000" stroke-width="0.9" fill="none"/>
<path d="M279.9,291.6 C280.8,291.1 283.7,289.9 285.5,288.5 C287.3,287.1 288.6,285.0 290.5,283.5 C292.4,282.0 294.7,280.6 296.8,279.8 C298.8,278.9 300.9,278.4 303.0,278.2 C305.1,278.1 307.4,278.3 309.2,278.8 C311.1,279.2 312.6,279.9 314.2,281.0 C315.9,282.1 317.0,284.2 319.2,285.4 C321.5,286.5 324.9,287.1 328.0,287.9 C331.1,288.6 336.3,289.4 338.0,289.8" stroke="#000" stroke-width="1.0" fill="none" />
<path d="M290.5,288.5 C292.6,289.0 298.2,291.0 303.0,291.6 C307.8,292.2 314.7,292.7 319.2,292.2 C323.8,291.8 328.6,289.6 330.5,289.1" stroke="#000" stroke-width="1.0" fill="none" />
<path d="M315.5,280.4 C313.2,280.2 314.0,281.0 311.8,282.9 C309.5,284.8 309.7,283.5 308.6,286.0 C307.6,288.5 307.6,288.7 308.6,290.4 C309.7,292.0 309.0,291.6 311.8,291.0 C314.5,290.4 313.6,290.0 316.8,288.5 C319.9,287.0 319.5,287.9 321.1,286.6 C322.8,285.4 322.6,285.8 321.8,284.8 C320.9,283.7 320.7,285.0 318.6,283.5 C316.5,282.0 317.8,280.6 315.5,280.4 Z" stroke="#000" stroke-width="1.0" fill="none" />
<path d="M305.4,311.9 C305.8,309.8 306.2,309.8 308.4,309.4 C310.6,309.0 309.6,309.0 312.0,310.6 C314.4,312.3 313.3,312.9 315.6,314.3 C317.9,315.7 318.0,313.5 318.9,314.9 C319.8,316.3 319.9,315.7 318.4,318.5 C316.9,321.3 316.4,322.5 314.4,323.3 C312.4,324.1 313.6,322.7 312.4,320.9 C311.2,319.1 312.5,319.7 310.8,317.9 C309.1,316.1 309.0,317.5 307.2,315.5 C305.4,313.5 305.0,313.9 305.4,311.9 Z" stroke="#000" stroke-width="1.0" fill="none" />
<circle cx="322.51" cy="319.46" r="4.60" stroke="#000" stroke-width="1.0" fill="none"/>
<circle cx="331.33" cy="328.76" r="4.80" stroke="#000" stroke-width="1.0" fill="none"/>
<path d="M314.4,326.9 C315.1,326.5 317.4,324.8 318.6,324.5 C319.9,324.2 320.4,323.9 321.7,325.1 C323.0,326.3 325.8,330.0 326.5,331.8 C327.2,333.6 326.7,334.9 325.9,336.0 C325.1,337.1 323.1,338.2 321.7,338.4 C320.3,338.6 318.1,337.4 317.4,337.2" stroke="#000" stroke-width="1.0" fill="none" />
<ellipse cx="321.7" cy="334.8" rx="1.6" ry="0.9" fill="none" stroke="#000" stroke-width="0.9" transform="rotate(-15 321.7 334.8)"/>
<path d="M318.6,333.0 C319.3,332.8 321.2,331.9 322.3,332.0 C323.4,332.1 324.8,333.3 325.3,333.6" stroke="#000" stroke-width="0.9" fill="none" />
<path d="M281.8,323.3 C282.6,320.3 282.0,320.9 284.2,319.7 C286.4,318.5 286.2,318.3 288.5,319.7 C290.7,321.1 289.1,321.3 291.1,323.9 C293.1,326.5 292.2,325.4 294.5,327.6 C296.8,329.7 298.1,329.1 298.1,330.3 C298.1,331.5 296.9,331.3 294.5,331.2 C292.1,331.1 292.7,329.8 290.9,330.0 C289.1,330.1 291.1,330.7 289.1,331.5 C287.0,332.3 287.2,333.3 284.8,332.4 C282.4,331.5 282.8,331.8 281.8,328.8 C280.8,325.7 281.0,326.3 281.8,323.3 Z" stroke="#000" stroke-width="1.0" fill="none" />
<path d="M286.0,335.4 C287.9,334.2 287.9,333.6 290.3,334.2 C292.7,334.8 292.7,335.2 293.3,337.2 C293.9,339.2 292.1,337.6 292.1,340.2 C292.1,342.8 293.7,342.0 293.3,345.1 C292.9,348.1 293.1,348.1 290.9,349.3 C288.7,350.5 288.9,350.9 286.6,348.7 C284.4,346.5 284.9,346.3 284.2,342.6 C283.5,339.0 284.0,340.2 284.6,337.8 C285.2,335.4 284.1,336.6 286.0,335.4 Z" stroke="#000" stroke-width="1.0" fill="none" />
<path d="M292.1,333.0 C293.6,331.8 294.7,332.8 296.3,334.2 C297.9,335.6 297.5,335.5 296.9,337.2 C296.3,338.9 296.2,339.1 294.5,339.3 C292.8,339.5 292.6,339.9 291.8,337.8 C291.0,335.7 290.6,334.2 292.1,333.0 Z" stroke="#000" stroke-width="1.0" fill="none" />
<path d="M296.9,340.2 C297.8,338.4 298.7,338.4 301.1,338.4 C303.6,338.4 303.6,338.6 304.2,340.2 C304.7,341.8 304.6,342.0 302.7,343.3 C300.8,344.5 300.3,344.9 298.4,343.9 C296.4,342.8 296.0,342.0 296.9,340.2 Z" stroke="#000" stroke-width="1.0" fill="none" />
<ellipse cx="306.0" cy="342.6" rx="2.6" ry="1.5" fill="none" stroke="#000" stroke-width="0.9"/>
<path d="M312.0,343.9 C312.1,344.7 313.0,347.3 312.6,348.7 C312.2,350.1 310.3,351.1 309.6,352.3 C308.9,353.5 308.1,355.1 308.4,355.9 C308.7,356.7 310.1,357.4 311.4,357.1 C312.7,356.8 315.0,355.0 316.2,354.1 C317.4,353.2 318.6,352.5 318.6,351.7 C318.6,350.9 316.9,350.5 316.2,349.3 C315.5,348.1 314.7,345.3 314.4,344.5" stroke="#000" stroke-width="1.0" fill="none" />
<path d="M294.1,374.8 C297.3,372.1 296.9,373.3 306.2,372.7 C315.4,372.1 313.8,372.6 321.9,373.0 C329.9,373.4 329.7,371.2 330.3,373.9 C330.9,376.5 327.7,376.9 323.7,380.9 C319.6,384.8 322.5,383.3 318.2,385.7 C314.0,388.1 316.2,387.9 311.0,388.1 C305.8,388.3 307.4,388.7 302.5,386.3 C297.7,383.9 299.3,384.7 296.5,380.9 C293.7,377.0 290.9,377.6 294.1,374.8 Z" stroke="#000" stroke-width="1.0" fill="none" />
<path d="M307.4,378.5 C308.2,377.0 308.2,376.8 310.4,376.6 C312.6,376.4 311.6,376.2 314.0,377.9 C316.4,379.5 315.2,380.1 317.6,381.5 C320.0,382.9 319.8,381.3 321.3,382.1 C322.7,382.9 322.9,382.9 321.9,383.9 C320.8,384.9 320.0,383.9 318.2,385.1 C316.4,386.3 318.0,387.5 316.4,387.5 C314.9,387.5 315.7,386.7 313.6,385.1 C311.6,383.5 312.3,384.1 310.4,382.7 C308.5,381.3 309.0,382.3 308.0,380.9 C307.0,379.5 306.6,379.9 307.4,378.5 Z" stroke="#000" stroke-width="1.0" fill="none" />
<circle cx="325.48" cy="387.27" r="5.00" stroke="#000" stroke-width="1.0" fill="none"/>
<circle cx="333.69" cy="395.97" r="5.00" stroke="#000" stroke-width="1.0" fill="none"/>
<path d="M317.0,396.0 C317.6,395.5 319.2,393.5 320.6,392.9 C322.1,392.4 323.9,392.1 325.5,392.9 C327.1,393.8 329.3,396.2 330.3,397.8 C331.3,399.4 331.9,401.2 331.5,402.6 C331.1,404.0 329.5,405.2 327.9,406.2 C326.3,407.2 323.4,408.6 321.9,408.6 C320.3,408.6 319.3,406.6 318.8,406.2" stroke="#000" stroke-width="1.0" fill="none" />
<rect x="323.06" y="401.64" width="2.60" height="3.10" rx="0.9" stroke="#000" stroke-width="0.9" fill="none"/>
<rect x="326.57" y="400.80" width="2.60" height="3.10" rx="0.9" stroke="#000" stroke-width="0.9" fill="none"/>
<path d="M314.9,388.1 C314.8,389.5 314.2,393.6 314.4,396.6 C314.5,399.6 315.4,403.2 315.8,406.2 C316.3,409.3 316.8,413.3 317.0,414.7" stroke="#000" stroke-width="1.0" fill="none" />
<path d="M317.0,388.1 C316.9,389.6 316.3,394.2 316.4,397.2 C316.6,400.2 317.6,403.4 318.0,406.2 C318.4,409.0 318.7,412.8 318.8,414.1" stroke="#000" stroke-width="1.0" fill="none" />
<path d="M317.0,414.7 C316.4,415.2 314.5,416.6 313.4,417.7 C312.3,418.8 310.8,420.1 310.4,421.3 C310.0,422.5 310.3,424.2 311.0,425.0 C311.7,425.7 313.4,426.0 314.6,425.6 C315.8,425.2 317.0,423.1 318.2,422.5 C319.4,421.9 320.8,422.3 321.9,421.9 C322.9,421.5 324.1,420.7 324.3,420.1 C324.5,419.5 323.8,418.8 323.1,418.3 C322.4,417.8 320.7,417.7 320.0,417.1 C319.3,416.5 319.0,415.1 318.8,414.7" stroke="#000" stroke-width="1.0" fill="none" />
<ellipse cx="290.0" cy="393.2" rx="5.0" ry="6.2" transform="rotate(-15 290.0 393.2)" fill="none" stroke="#000" stroke-width="1.0"/>
<ellipse cx="292.3" cy="410.2" rx="4.6" ry="7.4" transform="rotate(-8 292.3 410.2)" fill="none" stroke="#000" stroke-width="1.0"/>
<path d="M295.0,391.5 C295.9,392.2 299.0,394.6 300.1,396.0 C301.3,397.3 301.6,399.0 301.9,399.6" stroke="#000" stroke-width="1.0" fill="none" />
<path d="M294.1,399.6 C294.9,400.1 297.7,401.5 298.9,402.6 C300.1,403.7 300.9,405.6 301.3,406.2" stroke="#000" stroke-width="1.0" fill="none" />
<path d="M300.1,396.0 L302.3,398.4 L300.4,400.8 L302.3,403.2 L300.4,405.6" stroke="#000" stroke-width="0.9" fill="none" />
<path d="M301.9,399.6 C302.8,399.4 305.7,398.1 307.4,398.4 C309.1,398.7 311.1,400.1 312.2,401.4 C313.2,402.7 313.7,404.7 313.6,406.2 C313.5,407.7 312.6,409.5 311.6,410.5 C310.5,411.5 308.8,412.3 307.4,412.3 C306.0,412.3 304.1,411.4 303.1,410.5 C302.1,409.6 301.6,407.4 301.3,406.8" stroke="#000" stroke-width="1.0" fill="none" />
<circle cx="308.81" cy="407.44" r="1.30" stroke="#000" stroke-width="0.9" fill="none"/>
<circle cx="309.54" cy="411.06" r="1.00" stroke="#000" stroke-width="0.9" fill="none"/>
<line x1="57.50" y1="20.60" x2="553.50" y2="20.60" stroke="#ff0000" stroke-width="1.0" />
<text x="305.70" y="19.60" font-size="16" fill="#ff0000" stroke="#ff0000" stroke-width="0.15" text-anchor="middle" font-family="Liberation Sans, Arial, sans-serif">855</text>
<line x1="586.20" y1="48.10" x2="586.20" y2="438.50" stroke="#ff2a2a" stroke-width="0.8" />
<text transform="translate(586.20,243.80) rotate(90)" font-size="16" fill="#ff0000" stroke="#ff0000" stroke-width="0.15" text-anchor="middle" font-family="Liberation Sans, Arial, sans-serif">670</text>
<line x1="117.50" y1="216.40" x2="185.20" y2="216.40" stroke="#ff0000" stroke-width="1.0" />
<line x1="199.60" y1="216.40" x2="268.00" y2="216.40" stroke="#ff0000" stroke-width="1.0" />
<text transform="translate(186.60,216.60) rotate(90)" font-size="16" fill="#ff0000" stroke="#ff0000" stroke-width="0.15" text-anchor="middle" font-family="Liberation Sans, Arial, sans-serif">258</text>
<line x1="106.20" y1="231.00" x2="106.20" y2="250.30" stroke="#ff0000" stroke-width="1.0" />
<line x1="106.20" y1="277.80" x2="106.20" y2="299.00" stroke="#ff0000" stroke-width="1.0" />
<text transform="translate(100.50,264.30) rotate(90)" font-size="16" fill="#ff0000" stroke="#ff0000" stroke-width="0.15" text-anchor="middle" font-family="Liberation Sans, Arial, sans-serif">115</text>
<line x1="348.80" y1="233.00" x2="422.80" y2="233.00" stroke="#ff0000" stroke-width="1.0" />
<text x="382.00" y="231.80" font-size="16" fill="#ff0000" stroke="#ff0000" stroke-width="0.15" text-anchor="middle" font-family="Liberation Sans, Arial, sans-serif">140</text>
<line x1="428.00" y1="241.90" x2="428.00" y2="287.20" stroke="#ff0000" stroke-width="1.0" />
<text transform="translate(428.20,264.40) rotate(90)" font-size="16" fill="#ff0000" stroke="#ff0000" stroke-width="0.15" text-anchor="middle" font-family="Liberation Sans, Arial, sans-serif">78</text>
<line x1="287.70" y1="245.00" x2="287.70" y2="284.60" stroke="#ff0000" stroke-width="0.7" />
<text transform="translate(282.30,264.80) rotate(90)" font-size="16" fill="#ff0000" stroke="#ff0000" stroke-width="0.15" text-anchor="middle" font-family="Liberation Sans, Arial, sans-serif">68</text>
<line x1="566.50" y1="310.00" x2="566.50" y2="325.60" stroke="#ff0000" stroke-width="1.0" />
<line x1="566.50" y1="340.60" x2="566.50" y2="355.60" stroke="#ff0000" stroke-width="1.0" />
<text transform="translate(560.70,333.00) rotate(90)" font-size="16" fill="#ff0000" stroke="#ff0000" stroke-width="0.15" text-anchor="middle" font-family="Liberation Sans, Arial, sans-serif">76</text>
<line x1="337.50" y1="360.90" x2="440.20" y2="360.90" stroke="#ff0000" stroke-width="1.0" />
<line x1="453.40" y1="360.90" x2="555.80" y2="360.90" stroke="#ff0000" stroke-width="1.0" />
<text transform="translate(441.20,361.30) rotate(90)" font-size="16" fill="#ff0000" stroke="#ff0000" stroke-width="0.15" text-anchor="middle" font-family="Liberation Sans, Arial, sans-serif">297</text>
<line x1="41.20" y1="368.30" x2="41.20" y2="433.00" stroke="#ff0000" stroke-width="1.0" />
<text transform="translate(43.00,401.00) rotate(90)" font-size="16" fill="#ff0000" stroke="#ff0000" stroke-width="0.15" text-anchor="middle" font-family="Liberation Sans, Arial, sans-serif">110</text>
<path d="M277,374.5 L294.4,374.5 L294.4,427.3 L277,427.3" stroke="#ff0000" stroke-width="1.0" fill="none" />
<text transform="translate(288.20,400.20) rotate(90)" font-size="16" fill="#ff0000" stroke="#ff0000" stroke-width="0.15" text-anchor="middle" font-family="Liberation Sans, Arial, sans-serif">92</text>
<line x1="58.40" y1="415.00" x2="58.40" y2="438.50" stroke="#000" stroke-width="0.9" />
<line x1="58.40" y1="438.50" x2="58.40" y2="460.30" stroke="#ff0000" stroke-width="1.0" />
<line x1="58.40" y1="460.30" x2="215.80" y2="460.30" stroke="#ff0000" stroke-width="1.0" />
<line x1="215.80" y1="417.80" x2="215.80" y2="460.30" stroke="#ff0000" stroke-width="1.0" />
<text x="137.50" y="458.80" font-size="16" fill="#ff0000" stroke="#ff0000" stroke-width="0.15" text-anchor="middle" font-family="Liberation Sans, Arial, sans-serif">270</text>
</svg>
</body></html>
